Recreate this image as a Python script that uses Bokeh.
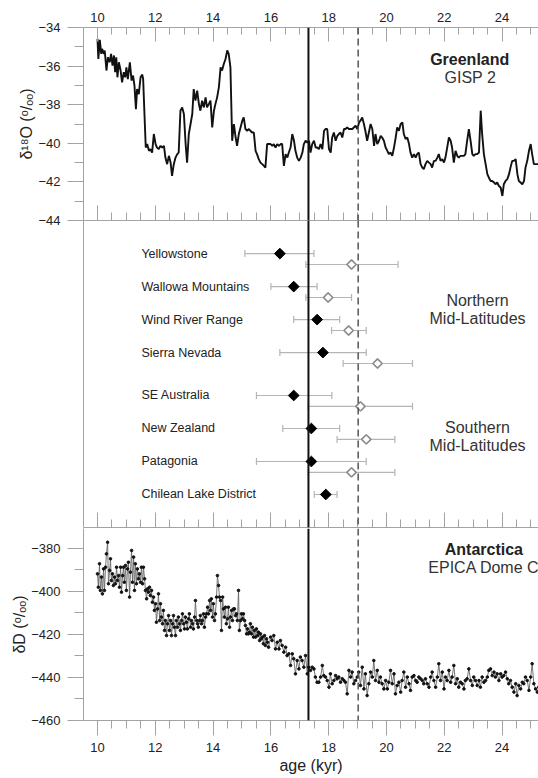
from bokeh.plotting import figure
from bokeh.models import (Range1d, LinearAxis, FixedTicker, SingleIntervalTicker, Span,
                          Whisker, ColumnDataSource, TeeHead, Label, CustomJSTickFormatter)
from bokeh.layouts import column
from bokeh.embed import file_html
from bokeh.resources import INLINE
from bokeh.core.properties import value

# ---------------- data ----------------
# GISP 2 (Greenland) delta 18O
gisp_age = [10.00, 10.03, 10.08, 10.13, 10.16, 10.22, 10.25, 10.31, 10.36, 10.42, 10.47, 10.52,
            10.57, 10.61, 10.65, 10.69, 10.74, 10.80, 10.85, 10.91, 10.96, 11.00, 11.05, 11.12,
            11.18, 11.23, 11.28, 11.33, 11.37, 11.43, 11.49, 11.55, 11.58, 11.63, 11.67, 11.72,
            11.78, 11.83, 11.89, 11.95, 12.01, 12.06, 12.12, 12.18, 12.24, 12.30, 12.35, 12.41,
            12.47, 12.53, 12.58, 12.64, 12.70, 12.76, 12.81, 12.87, 12.93, 12.99, 13.05, 13.10,
            13.16, 13.22, 13.28, 13.33, 13.39, 13.45, 13.51, 13.56, 13.62, 13.68, 13.74, 13.79,
            13.85, 13.91, 13.97, 14.03, 14.08, 14.14, 14.20, 14.26, 14.31, 14.37, 14.43, 14.49,
            14.54, 14.60, 14.66, 14.72, 14.78, 14.83, 14.89, 14.95, 15.01, 15.06, 15.12, 15.18,
            15.24, 15.29, 15.35, 15.41, 15.47, 15.52, 15.58, 15.64, 15.70, 15.76, 15.81, 15.87,
            15.93, 15.99, 16.05, 16.10, 16.16, 16.22, 16.28, 16.34, 16.39, 16.45, 16.51, 16.57,
            16.62, 16.68, 16.74, 16.80, 16.85, 16.91, 16.97, 17.03, 17.09, 17.14, 17.20, 17.26,
            17.32, 17.37, 17.43, 17.49, 17.55, 17.60, 17.66, 17.72, 17.78, 17.84, 17.89, 17.95,
            18.01, 18.07, 18.12, 18.18, 18.24, 18.30, 18.35, 18.41, 18.47, 18.53, 18.58, 18.64,
            18.70, 18.76, 18.82, 18.87, 18.93, 18.99, 19.05, 19.10, 19.16, 19.22, 19.28, 19.33,
            19.39, 19.45, 19.51, 19.57, 19.62, 19.68, 19.74, 19.80, 19.85, 19.91, 19.97, 20.03,
            20.08, 20.14, 20.20, 20.26, 20.31, 20.37, 20.43, 20.49, 20.55, 20.60, 20.66, 20.72,
            20.78, 20.83, 20.89, 20.95, 21.01, 21.06, 21.12, 21.18, 21.24, 21.29, 21.35, 21.41,
            21.47, 21.53, 21.58, 21.64, 21.70, 21.76, 21.81, 21.87, 21.93, 21.99, 22.04, 22.10,
            22.16, 22.22, 22.27, 22.33, 22.39, 22.45, 22.50, 22.56, 22.62, 22.68, 22.73, 22.79,
            22.85, 22.91, 22.97, 23.02, 23.08, 23.14, 23.20, 23.26, 23.31, 23.37, 23.43, 23.49,
            23.54, 23.60, 23.66, 23.72, 23.77, 23.83, 23.89, 23.95, 24.01, 24.06, 24.12, 24.18,
            24.24, 24.29, 24.35, 24.41, 24.47, 24.53, 24.58, 24.64, 24.70, 24.76, 24.81, 24.87,
            24.93, 24.99, 25.04, 25.10, 25.16, 25.30]
gisp_d18o = [-34.59, -35.63, -34.64, -35.37, -35.11, -35.37, -35.19, -36.23, -35.54, -35.80, -35.37, -35.97,
             -35.45, -36.32, -35.54, -36.58, -35.80, -36.23, -36.84, -36.32, -36.58, -36.06, -36.67, -35.80,
             -36.75, -36.49, -37.01, -38.23, -37.19, -37.45, -36.58, -36.44, -36.67, -38.66, -40.22, -40.04,
             -40.39, -40.30, -40.48, -39.52, -40.04, -40.22, -40.30, -40.13, -40.22, -40.13, -40.74, -41.08,
             -40.65, -41.00, -41.69, -41.08, -40.74, -40.56, -40.48, -38.31, -38.14, -38.48, -40.04, -41.00,
             -39.52, -39.00, -38.48, -37.19, -37.79, -37.27, -37.97, -38.31, -37.79, -38.14, -37.62, -38.14,
             -37.97, -37.79, -39.18, -38.31, -37.97, -37.62, -37.10, -36.06, -36.23, -35.89, -35.63, -35.19,
             -35.37, -36.06, -39.87, -39.00, -39.70, -40.13, -39.52, -39.18, -38.83, -38.66, -39.26, -39.35,
             -39.26, -39.35, -39.44, -39.44, -40.39, -40.56, -40.82, -41.00, -41.08, -41.17, -41.26, -40.04,
             -40.04, -40.04, -40.13, -40.04, -40.22, -40.04, -40.13, -40.04, -40.04, -41.17, -40.56, -40.74,
             -40.48, -40.22, -39.52, -39.87, -40.39, -40.74, -40.91, -40.74, -40.48, -40.04, -39.87, -39.96,
             -39.87, -40.48, -40.04, -39.87, -40.22, -40.22, -40.30, -40.04, -40.30, -39.35, -39.26, -39.26,
             -40.30, -40.48, -39.70, -39.44, -39.87, -39.61, -39.52, -39.44, -39.70, -39.26, -39.26, -39.18,
             -39.26, -39.26, -39.26, -39.18, -39.09, -39.26, -38.92, -38.83, -38.66, -39.00, -39.44, -39.87,
             -39.44, -39.00, -39.26, -40.13, -39.52, -40.04, -39.87, -39.61, -39.70, -39.87, -40.22, -40.39,
             -40.56, -40.48, -40.65, -40.22, -39.78, -39.18, -39.35, -39.00, -38.92, -39.52, -39.78, -39.70,
             -40.04, -40.48, -40.74, -40.56, -40.74, -40.56, -40.48, -41.08, -41.26, -41.34, -41.08, -40.91,
             -41.00, -41.08, -41.26, -40.91, -40.91, -40.74, -40.56, -40.91, -40.82, -41.00, -40.74, -40.22,
             -39.70, -39.87, -40.22, -41.00, -40.39, -40.65, -40.74, -40.65, -40.65, -40.65, -40.56, -39.87,
             -39.26, -39.87, -40.56, -40.65, -40.56, -40.56, -40.48, -38.31, -39.52, -40.56, -41.08, -41.60,
             -41.77, -41.95, -41.95, -42.03, -42.12, -42.03, -42.21, -42.29, -42.73, -42.12, -41.95, -41.86,
             -41.60, -41.26, -40.91, -40.91, -40.82, -41.60, -41.95, -42.03, -42.12, -41.95, -41.26, -40.91,
             -40.39, -40.04, -40.56, -41.08, -41.08, -41.08]

# EPICA Dome C (Antarctica) delta D
edc_age = [10.00, 10.03, 10.07, 10.10, 10.14, 10.17, 10.21, 10.24, 10.28, 10.31, 10.35, 10.38,
           10.42, 10.45, 10.48, 10.52, 10.55, 10.59, 10.62, 10.66, 10.69, 10.73, 10.76, 10.80,
           10.83, 10.87, 10.90, 10.93, 10.97, 11.00, 11.04, 11.07, 11.11, 11.14, 11.18, 11.21,
           11.25, 11.28, 11.31, 11.35, 11.38, 11.42, 11.45, 11.49, 11.52, 11.56, 11.59, 11.63,
           11.66, 11.70, 11.73, 11.76, 11.80, 11.83, 11.87, 11.90, 11.94, 11.97, 12.01, 12.04,
           12.08, 12.11, 12.15, 12.18, 12.21, 12.25, 12.28, 12.32, 12.35, 12.39, 12.42, 12.46,
           12.49, 12.53, 12.56, 12.60, 12.63, 12.66, 12.70, 12.73, 12.77, 12.80, 12.84, 12.87,
           12.91, 12.94, 12.98, 13.01, 13.04, 13.08, 13.11, 13.15, 13.18, 13.22, 13.25, 13.29,
           13.32, 13.36, 13.39, 13.43, 13.46, 13.49, 13.53, 13.56, 13.60, 13.63, 13.67, 13.70,
           13.74, 13.77, 13.81, 13.84, 13.88, 13.91, 13.94, 13.98, 14.01, 14.05, 14.08, 14.12,
           14.15, 14.19, 14.22, 14.26, 14.29, 14.33, 14.36, 14.39, 14.43, 14.46, 14.50, 14.53,
           14.57, 14.60, 14.64, 14.67, 14.71, 14.74, 14.78, 14.81, 14.84, 14.88, 14.91, 14.95,
           14.98, 15.02, 15.05, 15.09, 15.12, 15.16, 15.19, 15.22, 15.26, 15.29, 15.33, 15.36,
           15.40, 15.43, 15.47, 15.50, 15.54, 15.57, 15.61, 15.64, 15.67, 15.71, 15.74, 15.78,
           15.81, 15.85, 15.88, 15.92, 15.99, 16.04, 16.10, 16.16, 16.22, 16.28, 16.33, 16.39,
           16.45, 16.51, 16.56, 16.62, 16.68, 16.74, 16.79, 16.85, 16.91, 16.97, 17.02, 17.08,
           17.14, 17.20, 17.26, 17.31, 17.37, 17.43, 17.49, 17.54, 17.60, 17.66, 17.72, 17.78,
           17.83, 17.89, 17.95, 18.01, 18.06, 18.12, 18.18, 18.24, 18.29, 18.35, 18.41, 18.47,
           18.53, 18.58, 18.64, 18.70, 18.76, 18.81, 18.87, 18.93, 18.99, 19.04, 19.10, 19.16,
           19.22, 19.27, 19.33, 19.39, 19.45, 19.51, 19.56, 19.62, 19.68, 19.74, 19.79, 19.85,
           19.91, 19.97, 20.03, 20.08, 20.14, 20.20, 20.26, 20.31, 20.37, 20.43, 20.49, 20.54,
           20.60, 20.66, 20.72, 20.78, 20.83, 20.89, 20.95, 21.01, 21.06, 21.12, 21.18, 21.24,
           21.29, 21.35, 21.41, 21.47, 21.53, 21.58, 21.64, 21.70, 21.76, 21.81, 21.87, 21.93,
           21.99, 22.04, 22.10, 22.16, 22.22, 22.27, 22.33, 22.39, 22.45, 22.50, 22.56, 22.62,
           22.68, 22.73, 22.79, 22.85, 22.91, 22.97, 23.02, 23.08, 23.14, 23.20, 23.25, 23.31,
           23.37, 23.43, 23.49, 23.54, 23.60, 23.66, 23.72, 23.77, 23.83, 23.89, 23.95, 24.00,
           24.06, 24.12, 24.18, 24.23, 24.29, 24.35, 24.41, 24.47, 24.52, 24.58, 24.64, 24.70,
           24.75, 24.81, 24.87, 24.93, 24.99, 25.04, 25.10, 25.16, 25.22, 25.27]
edc_dD = [-391.8, -398.0, -387.1, -399.5, -393.3, -401.1, -389.5, -399.5, -388.7, -382.5, -377.1, -396.4,
          -390.2, -384.8, -394.9, -391.8, -397.2, -393.3, -396.4, -388.7, -394.9, -392.6, -398.0, -388.7,
          -400.3, -392.6, -388.7, -395.7, -387.9, -399.5, -389.5, -386.4, -402.6, -391.0, -380.9, -395.7,
          -384.0, -399.5, -387.1, -396.4, -389.5, -394.1, -391.8, -395.7, -388.7, -396.4, -388.7, -394.1,
          -399.5, -403.4, -398.8, -400.3, -398.0, -401.9, -399.5, -405.0, -402.6, -408.8, -405.7, -414.3,
          -408.1, -401.1, -413.5, -405.7, -411.9, -415.0, -408.8, -418.1, -413.5, -420.5, -415.0, -411.2,
          -418.1, -413.5, -420.5, -415.0, -411.2, -416.6, -420.5, -413.5, -416.6, -411.9, -415.0, -418.1,
          -413.5, -410.4, -415.0, -417.4, -411.9, -414.3, -417.4, -412.7, -410.4, -416.6, -413.5, -415.0,
          -417.4, -411.9, -404.2, -413.5, -415.0, -416.6, -413.5, -411.2, -415.0, -413.5, -410.4, -416.6,
          -411.9, -410.4, -407.3, -410.4, -404.2, -408.8, -403.4, -411.9, -405.7, -413.5, -410.4, -402.6,
          -392.6, -397.2, -402.6, -404.2, -418.1, -402.6, -408.1, -411.9, -407.3, -415.0, -412.7, -407.3,
          -416.6, -411.9, -408.8, -413.5, -408.1, -408.1, -411.2, -410.4, -413.5, -399.5, -418.1, -413.5,
          -410.4, -412.7, -410.4, -413.5, -415.8, -419.7, -417.4, -419.7, -418.9, -415.0, -419.7, -416.6,
          -421.2, -418.1, -421.2, -417.4, -420.5, -418.9, -422.8, -419.7, -422.0, -421.2, -424.3, -420.5,
          -425.1, -422.0, -423.6, -425.9, -421.2, -422.8, -420.5, -426.7, -423.6, -426.7, -422.8, -425.1,
          -428.2, -425.9, -429.8, -429.0, -434.4, -429.0, -431.3, -438.3, -432.1, -436.0, -430.5, -432.1,
          -435.2, -429.8, -438.3, -435.2, -436.7, -435.2, -436.0, -439.8, -442.2, -442.2, -439.8, -434.4,
          -439.1, -439.8, -441.4, -444.5, -438.3, -442.9, -441.4, -439.1, -440.6, -439.8, -442.2, -440.6,
          -441.4, -442.2, -447.6, -436.7, -439.8, -437.5, -442.9, -441.4, -439.8, -437.5, -443.7, -435.2,
          -445.3, -438.3, -448.4, -442.9, -437.5, -439.8, -432.1, -441.4, -436.7, -442.2, -439.8, -442.9,
          -445.3, -441.4, -445.3, -442.2, -436.7, -442.9, -438.3, -447.6, -443.7, -442.2, -446.8, -441.4,
          -437.5, -444.5, -439.8, -442.9, -446.0, -439.8, -439.1, -441.4, -442.2, -439.8, -440.6, -441.4,
          -442.9, -440.6, -442.9, -444.5, -439.8, -437.5, -441.4, -444.5, -439.8, -433.6, -441.4, -437.5,
          -445.3, -439.8, -441.4, -436.7, -442.2, -439.8, -434.4, -442.9, -440.6, -444.5, -442.2, -442.9,
          -445.3, -441.4, -440.6, -436.0, -441.4, -443.7, -439.8, -441.4, -443.7, -441.4, -444.5, -439.8,
          -442.2, -441.4, -439.8, -436.7, -436.0, -439.1, -437.5, -439.8, -438.3, -441.4, -438.3, -439.8,
          -439.1, -437.5, -440.6, -442.9, -441.4, -444.5, -446.8, -442.9, -448.4, -443.7, -445.3, -442.2,
          -442.9, -439.8, -441.4, -446.0, -439.8, -433.6, -442.9, -445.3, -446.8, -444.5]

# Moraine ages (kyr): black = original ages, open = recalculated ages
sites = ["Yellowstone", "Wallowa Mountains", "Wind River Range", "Sierra Nevada",
         "SE Australia", "New Zealand", "Patagonia", "Chilean Lake District"]
row_pos = [8.3, 7.3, 6.3, 5.3, 4.0, 3.0, 2.0, 1.0]
black_age = [16.31, 16.79, 17.60, 17.80, 16.79, 17.40, 17.40, 17.90]
black_lo = [15.10, 16.00, 16.79, 16.31, 15.50, 16.41, 15.50, 17.50]
black_hi = [17.49, 17.60, 18.38, 19.30, 18.11, 18.38, 19.30, 18.29]
open_age = [18.79, 17.98, 18.69, 19.69, 19.10, 19.30, 18.79]
open_lo = [17.21, 17.21, 18.10, 18.50, 17.29, 18.29, 17.29]
open_hi = [20.40, 18.79, 19.30, 20.90, 20.90, 20.29, 20.29]
open_offset = 0.33

solid_line_age = 17.3
dashed_line_age = 19.02

x_major = 2
y_top_ticks = [-44, -42, -40, -38, -36, -34]
y_top_minor = [-43, -41, -39, -37, -35]
y_bot_ticks = [-460, -440, -420, -400, -380]
y_bot_minor = [-450, -430, -410, -390]

# ---------------- style ----------------
FONT = "Liberation Sans"
AX = "#a3a3a3"
TXT = "#222222"
W = 538
LEFT = 83
X0, X1 = 9.516, 25.26
x_range = Range1d(X0, X1)
OVERLAP = 8   # the middle panel is drawn over the bottom border of the top panel


def make_fig(height, top, bottom, y_range, transparent=False):
    p = figure(width=W, height=height, x_range=x_range, y_range=y_range,
               output_backend="svg", toolbar_location=None,
               x_axis_location=None, y_axis_location=None,
               min_border_left=LEFT, min_border_right=0,
               min_border_top=top, min_border_bottom=bottom)
    p.outline_line_color = None
    p.grid.visible = False
    if transparent:
        p.background_fill_color = None
        p.border_fill_color = None
    else:
        p.background_fill_color = "white"
        p.border_fill_color = "white"
    return p


def style_axis(ax, tick_in=0, tick_out=0, minor_in=0, minor_out=0, labels=True, standoff=6):
    ax.axis_line_color = AX
    ax.major_tick_line_color = AX
    ax.minor_tick_line_color = AX
    ax.major_tick_in = tick_in
    ax.major_tick_out = tick_out
    ax.minor_tick_in = minor_in
    ax.minor_tick_out = minor_out
    ax.major_label_text_font = FONT
    ax.major_label_text_color = TXT
    ax.major_label_standoff = standoff
    ax.axis_label_text_font = FONT
    ax.axis_label_text_font_style = "normal"
    ax.axis_label_text_color = TXT
    ax.axis_label_text_font_size = "16px"
    ax.major_label_text_font_size = "13px"
    if not labels:
        ax.formatter = CustomJSTickFormatter(code="return ''")
        ax.major_label_text_font_size = "1px"
        ax.major_label_standoff = 0


def add_spans(p):
    p.add_layout(Span(location=solid_line_age, dimension="height", line_color="#111111", line_width=2))
    p.add_layout(Span(location=dashed_line_age, dimension="height", line_color="#555555",
                      line_width=1.5, line_dash="7 4"))


def x_ticker():
    return SingleIntervalTicker(interval=x_major, num_minor_ticks=4)


# ---------------- top panel: Greenland ----------------
p_top = make_fig(220 + OVERLAP, 27, OVERLAP, Range1d(-44, -34))
ax = LinearAxis(ticker=x_ticker())
style_axis(ax, tick_in=14, minor_in=7, standoff=6)
p_top.add_layout(ax, "above")
ax = LinearAxis(ticker=x_ticker())
style_axis(ax, tick_in=15, minor_in=8, labels=False)
p_top.add_layout(ax, "below")
ay = LinearAxis(ticker=FixedTicker(ticks=y_top_ticks, minor_ticks=y_top_minor),
                axis_label="δ¹⁸O (ᵒ/ₒₒ)")
style_axis(ay, tick_out=16, minor_out=9, standoff=7)
ay.axis_label_standoff = 0
p_top.add_layout(ay, "left")
add_spans(p_top)
p_top.line(gisp_age, gisp_d18o, line_color="#111111", line_width=1.9)
p_top.add_layout(Label(x=22.88, y=-35.68, text="Greenland", text_align="center", text_baseline="middle",
                       text_font=FONT, text_font_size="16px", text_font_style="bold", text_color=TXT))
p_top.add_layout(Label(x=22.9, y=-36.58, text="GISP 2", text_align="center", text_baseline="middle",
                       text_font=FONT, text_font_size="16px", text_color="#333333"))

# ---------------- middle panel: moraine ages ----------------
p_mid = make_fig(307 + 1, 0, 1, Range1d(0, 9.303), transparent=True)
p_mid.margin = (-OVERLAP, 0, 0, 0)
ay = LinearAxis(ticker=FixedTicker(ticks=[]))
style_axis(ay, labels=False)
p_mid.add_layout(ay, "left")
ax = LinearAxis(ticker=x_ticker())
style_axis(ax, tick_in=15, minor_in=8, labels=False)
p_mid.add_layout(ax, "below")
add_spans(p_mid)

black_src = ColumnDataSource(dict(x=black_age, y=row_pos, lo=black_lo, hi=black_hi))
open_src = ColumnDataSource(dict(x=open_age, y=[r - open_offset for r in row_pos[:len(open_age)]],
                                 lo=open_lo, hi=open_hi))
EB = "#b5b5b5"
for src in (black_src, open_src):
    p_mid.add_layout(Whisker(source=src, base="y", lower="lo", upper="hi", dimension="width",
                             line_color=EB, line_width=1.2,
                             upper_head=TeeHead(size=7, line_color=EB, line_width=1.2),
                             lower_head=TeeHead(size=7, line_color=EB, line_width=1.2)))
p_mid.scatter("x", "y", source=open_src, marker="square", angle=0.785398, size=6.6, fill_color="white",
              line_color="#8a8a8a", line_width=1.6)
p_mid.scatter("x", "y", source=black_src, marker="square", angle=0.785398, size=7.6, fill_color="black",
              line_color="black")
p_mid.text(x=[11.52] * len(sites), y=row_pos, text=sites, text_font=value(FONT),
           text_font_size="12.5px", text_color=TXT, text_align="left", text_baseline="middle")
p_mid.text(x=[23.15, 23.15, 23.15, 23.15], y=[6.88, 6.32, 3.02, 2.48],
           text=["Northern", "Mid-Latitudes", "Southern", "Mid-Latitudes"],
           text_font=value(FONT), text_font_size="16px", text_color="#333333",
           text_align="center", text_baseline="middle")

# ---------------- bottom panel: Antarctica ----------------
p_bot = make_fig(250, 0, 58, Range1d(-460, -370.7))
ay = LinearAxis(ticker=FixedTicker(ticks=y_bot_ticks, minor_ticks=y_bot_minor),
                axis_label="δD (ᵒ/ₒₒ)")
style_axis(ay, tick_out=16, minor_out=9, standoff=7)
ay.axis_label_standoff = 0
p_bot.add_layout(ay, "left")
ax = LinearAxis(ticker=x_ticker(), axis_label="age (kyr)")
style_axis(ax, tick_out=15, minor_out=8, standoff=7)
ax.axis_label_standoff = 2
p_bot.add_layout(ax, "below")
add_spans(p_bot)
p_bot.line(edc_age, edc_dD, line_color="#666666", line_width=0.9)
p_bot.scatter(edc_age, edc_dD, marker="circle", size=2.6, color="#111111")
p_bot.add_layout(Label(x=23.37, y=-380.6, text="Antarctica", text_align="center", text_baseline="middle",
                       text_font=FONT, text_font_size="16px", text_font_style="bold", text_color=TXT))
p_bot.add_layout(Label(x=23.37, y=-389.0, text="EPICA Dome C", text_align="center", text_baseline="middle",
                       text_font=FONT, text_font_size="16px", text_color="#333333"))

layout = column(p_top, p_mid, p_bot, spacing=0)
open("out.html", "w").write(file_html(layout, INLINE))
